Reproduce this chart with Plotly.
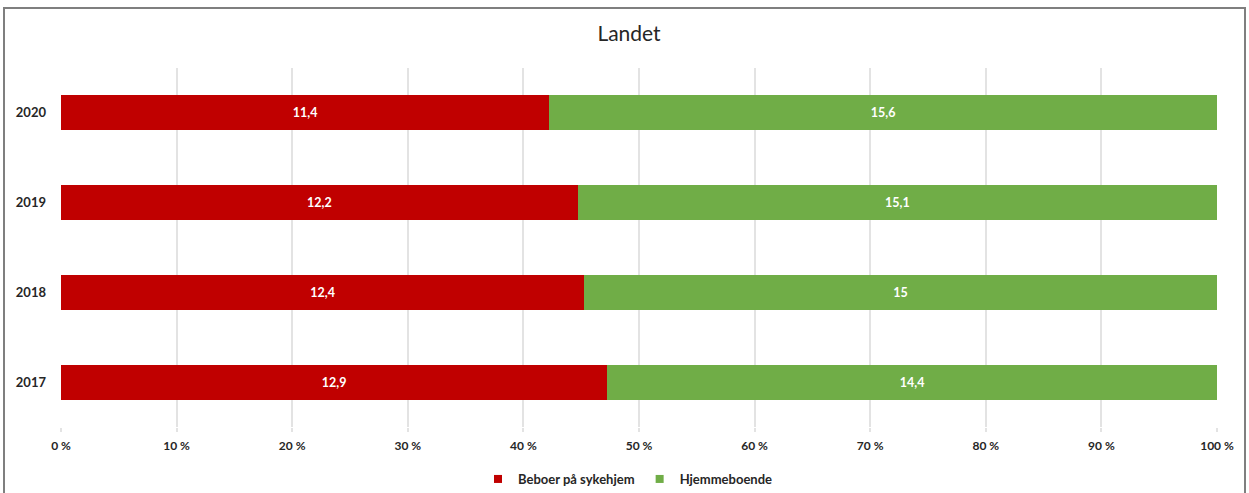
import plotly.graph_objects as go

years = ["2017", "2018", "2019", "2020"]
sykehjem = [12.9, 12.4, 12.2, 11.4]
hjemme = [14.4, 15.0, 15.1, 15.6]
series_names = ["Beboer på sykehjem", "Hjemmeboende"]
series_colors = ["#C00000", "#70AD47"]
tick_vals = [0, 10, 20, 30, 40, 50, 60, 70, 80, 90, 100]
tick_text = ["0 %", "10 %", "20 %", "30 %", "40 %", "50 %", "60 %", "70 %", "80 %", "90 %", "100 %"]


def fmt(v):
    return ("%g" % v).replace(".", ",")


W, H = 1249, 493
L, R, T, B = 61, 1217, 68, 427
FONT = "Lato"

fig = go.Figure()
for name, vals, col in zip(series_names, [sykehjem, hjemme], series_colors):
    fig.add_trace(go.Bar(
        y=years, x=vals, orientation="h", name=name, showlegend=False,
        marker=dict(color=col, line=dict(width=0)),
        text=[fmt(v) for v in vals], textposition="inside", insidetextanchor="middle",
        textfont=dict(color="white", size=12.5, family=FONT, weight="bold"),
        hoverinfo="skip",
    ))
# legend entries with small square symbols
for name, col in zip(series_names, series_colors):
    fig.add_trace(go.Scatter(
        x=[None], y=[None], mode="markers", name=name, showlegend=True,
        marker=dict(symbol="square", size=8, color=col),
        hoverinfo="skip",
    ))

pw, ph = R - L, B - T
fig.update_layout(
    width=W, height=H,
    barmode="stack", barnorm="percent", bargap=0.61,
    margin=dict(l=L, r=W - R, t=T, b=H - B, pad=0, autoexpand=False),
    paper_bgcolor="white", plot_bgcolor="white",
    font=dict(family=FONT, color="#262626"),
    title=dict(text="Landet", x=629 / W, xanchor="center", y=1 - 34 / H, yanchor="middle",
               yref="container", font=dict(size=21, color="#262626", family=FONT)),
    showlegend=True,
    legend=dict(orientation="h", x=(628 - L) / pw, xanchor="center", y=(B - 479) / ph, yanchor="middle",
                font=dict(size=13, color="#262626", family=FONT, weight="bold"),
                itemwidth=30, traceorder="normal", bgcolor="rgba(0,0,0,0)"),
    xaxis=dict(range=[0, 100], tickvals=tick_vals, ticktext=tick_text, showgrid=True,
               gridcolor="#E3E3E3", gridwidth=1.5, zeroline=False, showline=False,
               ticks="outside", ticklen=4, tickcolor="#E3E3E3", tickwidth=1.5,
               tickfont=dict(size=12, color="#262626", family=FONT, weight="bold"),
               ticklabelstandoff=4, automargin=False, fixedrange=True),
    yaxis=dict(range=[-0.5, 3.5], showgrid=False, zeroline=False, showline=False,
               tickfont=dict(size=13, color="#262626", family=FONT, weight="bold"),
               ticklabelstandoff=14, automargin=False, fixedrange=True),
    shapes=[dict(type="rect", xref="paper", yref="paper",
                 x0=(4 - L) / pw, x1=(1245 - L) / pw, y0=(B - 520) / ph, y1=(B - 8) / ph,
                 line=dict(color="#7F7F7F", width=2), fillcolor="rgba(0,0,0,0)", layer="below")],
)

fig.write_html("out.html")
